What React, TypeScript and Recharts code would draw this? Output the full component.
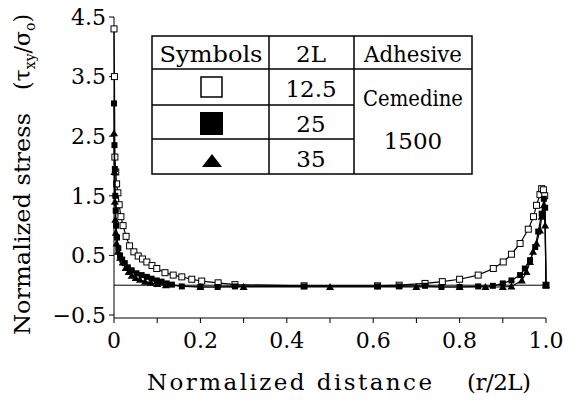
import { ScatterChart, Scatter, XAxis, YAxis, ReferenceLine } from 'recharts'

// 2L = 12.5 (open squares)
const x125 = [0, 0.001, 0.002, 0.004, 0.006, 0.009, 0.012, 0.016, 0.021, 0.028, 0.036, 0.046, 0.056, 0.066, 0.076, 0.088, 0.099, 0.118, 0.137, 0.157, 0.18, 0.203, 0.241, 0.28, 0.44, 0.61, 0.66, 0.72, 0.76, 0.8, 0.843, 0.878, 0.901, 0.92, 0.94, 0.959, 0.971, 0.978, 0.986, 0.99, 0.994, 0.997, 1.0]
const y125 = [4.3, 3.5, 2.15, 1.9, 1.7, 1.55, 1.35, 1.15, 1.0, 0.82, 0.66, 0.56, 0.49, 0.44, 0.39, 0.33, 0.28, 0.21, 0.17, 0.14, 0.1, 0.07, 0.04, 0.01, -0.01, -0.01, 0.0, 0.03, 0.06, 0.1, 0.17, 0.28, 0.39, 0.52, 0.7, 0.94, 1.15, 1.34, 1.52, 1.62, 1.6, 1.5, 0.0]

// 2L = 25 (filled squares)
const x25 = [0, 0.001, 0.002, 0.003, 0.004, 0.005, 0.007, 0.01, 0.014, 0.019, 0.025, 0.032, 0.041, 0.052, 0.064, 0.076, 0.087, 0.099, 0.11, 0.122, 0.134, 0.157, 0.2, 0.24, 0.28, 0.44, 0.61, 0.66, 0.72, 0.758, 0.8, 0.843, 0.877, 0.9, 0.92, 0.94, 0.951, 0.963, 0.975, 0.982, 0.99, 0.995, 0.998, 1.0]
const y25 = [3.05, 2.35, 1.95, 1.5, 1.25, 1.0, 0.8, 0.62, 0.5, 0.43, 0.37, 0.3, 0.25, 0.2, 0.17, 0.14, 0.11, 0.08, 0.06, 0.03, 0.01, -0.02, -0.03, -0.03, -0.02, -0.02, -0.02, -0.02, -0.01, -0.03, -0.03, -0.02, -0.01, 0.03, 0.08, 0.17, 0.28, 0.42, 0.64, 0.9, 1.2, 1.45, 1.3, 0.0]

// 2L = 35 (filled triangles)
const x35 = [0, 0.001, 0.002, 0.003, 0.004, 0.006, 0.009, 0.014, 0.02, 0.027, 0.034, 0.041, 0.05, 0.06, 0.072, 0.085, 0.1, 0.12, 0.2, 0.3, 0.5, 0.7, 0.8, 0.86, 0.9, 0.92, 0.944, 0.955, 0.963, 0.97, 0.978, 0.986, 0.99, 0.995, 0.998, 1.0]
const y35 = [2.55, 1.9, 1.4, 1.1, 0.88, 0.7, 0.56, 0.46, 0.38, 0.29, 0.22, 0.16, 0.12, 0.09, 0.06, 0.04, 0.02, 0.0, -0.03, -0.03, -0.03, -0.03, -0.03, -0.03, -0.03, -0.02, 0.08, 0.22, 0.39, 0.56, 0.7, 0.92, 1.15, 1.34, 1.0, 0.0]

const xTicks = [0, 0.1, 0.2, 0.3, 0.4, 0.5, 0.6, 0.7, 0.8, 0.9, 1.0]
const xTickLabels = ['0', '', '0.2', '', '0.4', '', '0.6', '', '0.8', '', '1.0']
const yTicks = [-0.5, 0.5, 1.5, 2.5, 3.5, 4.5]
const yTickLabels = ['\u22120.5', '0.5', '1.5', '2.5', '3.5', '4.5']

const toPoints = (xs: number[], ys: number[]) => xs.map((x, i) => ({ x, y: ys[i] }))

const serif = 'DejaVu Serif'
const tickStyle = { fill: '#000', fontSize: 22, fontFamily: serif }

const OpenSquare = (p: any) => (
  <rect x={p.cx - 3} y={p.cy - 3} width={6} height={6} fill="#fff" stroke="#000" strokeWidth={1} />
)
const FilledSquare = (p: any) => (
  <rect x={p.cx - 3} y={p.cy - 3} width={6} height={6} fill="#000" />
)
const Triangle = (p: any) => (
  <polygon points={`${p.cx},${p.cy - 4} ${p.cx - 4},${p.cy + 3} ${p.cx + 4},${p.cy + 3}`} fill="#000" />
)

function App() {
  return (
    <div style={{ position: 'absolute', left: 0, top: 0, width: 578, height: 403, background: '#fff', fontFamily: serif }}>
      <ScatterChart width={578} height={403} margin={{ top: 17, right: 32, left: 54, bottom: 45 }} style={{ fontFamily: serif }}>
        <XAxis
          type="number"
          dataKey="x"
          domain={[0, 1]}
          ticks={xTicks}
          tickFormatter={(v) => xTickLabels[xTicks.indexOf(v)] ?? ''}
          tick={tickStyle}
          tickSize={5}
          tickMargin={9}
          height={40}
          stroke="#000"
          interval={0}
        />
        <XAxis xAxisId="top" orientation="top" type="number" domain={[0, 1]} tick={false} tickLine={false} height={0} stroke="#000" />
        <YAxis
          type="number"
          dataKey="y"
          domain={[-0.55, 4.5]}
          ticks={yTicks}
          tickFormatter={(v) => yTickLabels[yTicks.indexOf(v)] ?? ''}
          tick={tickStyle}
          tickSize={5}
          tickMargin={3}
          width={60}
          stroke="#000"
          interval={0}
        />
        <YAxis yAxisId="right" orientation="right" type="number" domain={[-0.55, 4.5]} tick={false} tickLine={false} width={0} stroke="#000" />
        <ReferenceLine y={0} stroke="#000" strokeWidth={1} />
        <Scatter data={toPoints(x125, y125)} line={{ stroke: '#000', strokeWidth: 1.2 }} lineType="joint" shape={OpenSquare} isAnimationActive={false} />
        <Scatter data={toPoints(x25, y25)} line={{ stroke: '#000', strokeWidth: 1.2 }} lineType="joint" shape={FilledSquare} isAnimationActive={false} />
        <Scatter data={toPoints(x35, y35)} line={{ stroke: '#000', strokeWidth: 1.2 }} lineType="joint" shape={Triangle} isAnimationActive={false} />
      </ScatterChart>

      <svg width={578} height={403} style={{ position: 'absolute', left: 0, top: 0, pointerEvents: 'none', fontFamily: serif }} fill="#000">
        {/* axis titles */}
        <text transform="translate(30, 224) rotate(-90)" textAnchor="middle" fontSize={23} textLength={222} lengthAdjust="spacingAndGlyphs">
          Normalized stress
        </text>
        <text transform="translate(30, 52) rotate(-90)" textAnchor="middle" fontSize={22}>
          (τ<tspan fontSize={14} dy={5}>xy</tspan><tspan dy={-5}>/σ</tspan><tspan fontSize={14} dy={5}>o</tspan><tspan dy={-5}>)</tspan>
        </text>
        <text x={147} y={390} fontSize={23} textLength={285} lengthAdjust="spacing">
          Normalized distance
        </text>
        <text x={467} y={390} fontSize={23} textLength={64} lengthAdjust="spacing">
          (r/2L)
        </text>

        {/* legend table */}
        <g stroke="#000" strokeWidth={1.5} fill="none">
          <rect x={152} y={36} width={320} height={138} fill="#fff" />
          <line x1={269} y1={36} x2={269} y2={174} />
          <line x1={354} y1={36} x2={354} y2={174} />
          <line x1={152} y1={69} x2={472} y2={69} />
          <line x1={152} y1={105} x2={354} y2={105} />
          <line x1={152} y1={139} x2={354} y2={139} />
        </g>
        <g fontSize={23} textAnchor="middle">
          <text x={211} y={62} textLength={103} lengthAdjust="spacingAndGlyphs">Symbols</text>
          <text x={311} y={62}>2L</text>
          <text x={413} y={62} textLength={98} lengthAdjust="spacingAndGlyphs">Adhesive</text>
          <text x={311} y={97}>12.5</text>
          <text x={311} y={132}>25</text>
          <text x={311} y={167}>35</text>
          <text x={413} y={106} textLength={100} lengthAdjust="spacingAndGlyphs">Cemedine</text>
          <text x={413} y={149}>1500</text>
        </g>
        <rect x={201} y={77} width={21} height={20} fill="#fff" stroke="#000" strokeWidth={1.5} />
        <rect x={200} y={112} width={23} height={23} fill="#000" />
        <polygon points="212,154 202,167 222,167" fill="#000" />
      </svg>
    </div>
  )
}

export default App
